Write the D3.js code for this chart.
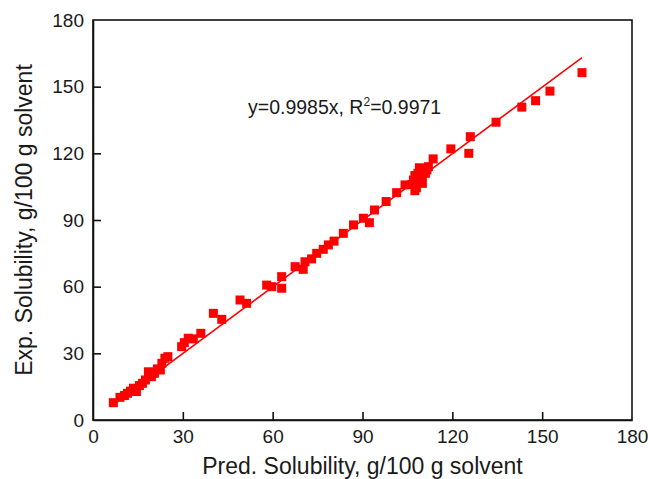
<!DOCTYPE html>
<html lang="en">
<head>
  <meta charset="UTF-8">
  <title>Solubility parity plot</title>
  <style>
    body { margin: 0; background: #fff; overflow: hidden; }
    svg { font-family: 'Liberation Sans', Arial, sans-serif; }
    .tick text { fill: #1a1a1a; }
  </style>
</head>
<body>
  <svg width="648" height="479"></svg>

  <script src="https://d3js.org/d3.v7.min.js"></script>
  <script>
    // predicted vs experimental solubility, g/100 g solvent
    var predicted = [6.8, 9, 10.5, 11.5, 12.5, 13.5, 14.5, 15.5, 16.5, 17.5, 18.5, 19.5, 20.5, 21.5, 22.5, 23, 24, 25,
      29.6, 30.5, 31.8, 33.5, 36, 40.2, 43, 49.1, 51.3, 58, 59.7, 63, 63, 67.5, 70.2, 70.8, 73, 74.7, 76.9, 78.6,
      80.5, 83.6, 87, 90.3, 92.3, 94, 97.9, 101.4, 104.2, 107.5,
      106.5, 107, 107.5, 108, 108.5, 109, 109.5, 110, 110.5, 111, 111.5, 108, 110, 112, 109,
      113.6, 119.5, 126, 125.5, 134.6, 143.2, 147.8, 152.6, 163.3];
    var experimental = [7.8, 10.2, 11, 12, 13, 14.3, 12.8, 15.5, 16.5, 18, 21.7, 19.5, 21, 23, 22.5, 25.5, 27.8, 28.5,
      33, 34.8, 36.8, 36.5, 39, 48, 45.3, 54, 52.5, 60.7, 60, 59.3, 64.5, 69, 67.8, 71.2, 72.5, 75, 76.8, 78.8,
      80.5, 84, 87.8, 90.8, 88.8, 94.5, 98.3, 102.3, 105.8, 103.2,
      106, 108, 110, 107, 111, 109, 112, 110.5, 113, 111, 112.5, 104.5, 106.5, 114, 113.5,
      117.5, 122, 127.5, 120, 134, 140.8, 143.7, 148, 156.3];
    var ticks = [0, 30, 60, 90, 120, 150, 180];
    var slope = 0.9985;
    var fitRange = [6.5, 163.3];

    var svg = d3.select("svg");
    var plotL = 93, plotR = 632, plotT = 20, plotB = 420;

    var x = d3.scaleLinear().domain([0, 180]).range([plotL, plotR]);
    var y = d3.scaleLinear().domain([0, 180]).range([plotB, plotT]);

    // frame
    svg.append("rect")
      .attr("x", plotL).attr("y", plotT)
      .attr("width", plotR - plotL).attr("height", plotB - plotT)
      .attr("fill", "none").attr("stroke", "#111").attr("stroke-width", 1.6);

    var xAxis = svg.append("g")
      .attr("transform", "translate(0," + plotB + ")")
      .call(d3.axisBottom(x).tickValues(ticks).tickSizeInner(-8).tickSizeOuter(0).tickPadding(10));
    var yAxis = svg.append("g")
      .attr("transform", "translate(" + plotL + ",0)")
      .call(d3.axisLeft(y).tickValues(ticks).tickSizeInner(-8).tickSizeOuter(0).tickPadding(9));

    [xAxis, yAxis].forEach(function(g) {
      g.select(".domain").attr("stroke", "#111").attr("stroke-width", 1.6);
      g.selectAll(".tick line").attr("stroke", "#111").attr("stroke-width", 1.6);
      g.selectAll(".tick text").style("font-size", "19px").style("font-family", "'Liberation Sans', Arial, sans-serif");
    });
    // no tick marks on the corners
    xAxis.selectAll(".tick line").filter(function(d) { return d === 0 || d === 180; }).remove();
    yAxis.selectAll(".tick line").filter(function(d) { return d === 0 || d === 180; }).remove();

    // fitted line
    svg.append("line")
      .attr("x1", x(fitRange[0])).attr("y1", y(slope * fitRange[0]))
      .attr("x2", x(fitRange[1])).attr("y2", y(slope * fitRange[1]))
      .attr("stroke", "#ff0000").attr("stroke-width", 1.5);

    // points
    svg.append("g")
      .selectAll("rect")
      .data(predicted)
      .enter()
        .append("rect")
        .attr("x", function(d) { return x(d) - 4.5; })
        .attr("y", function(d, i) { return y(experimental[i]) - 4.5; })
        .attr("width", 9)
        .attr("height", 9)
        .attr("fill", "#ff0000");

    // equation label
    var eq = svg.append("text")
      .attr("x", 248).attr("y", 114)
      .style("font-size", "19.5px")
      .attr("fill", "#1a1a1a");
    eq.append("tspan").text("y=0.9985x, R");
    eq.append("tspan").attr("dy", -8).style("font-size", "12px").text("2");
    eq.append("tspan").attr("dy", 8).text("=0.9971");

    // axis titles
    svg.append("text")
      .attr("x", (plotL + plotR) / 2).attr("y", 474)
      .attr("text-anchor", "middle")
      .style("font-size", "23px")
      .attr("fill", "#1a1a1a")
      .text("Pred. Solubility, g/100 g solvent");

    svg.append("text")
      .attr("transform", "translate(32," + (plotT + plotB) / 2 + ") rotate(-90)")
      .attr("text-anchor", "middle")
      .style("font-size", "23px")
      .attr("fill", "#1a1a1a")
      .text("Exp. Solubility, g/100 g solvent");
  </script>
</body>
</html>
